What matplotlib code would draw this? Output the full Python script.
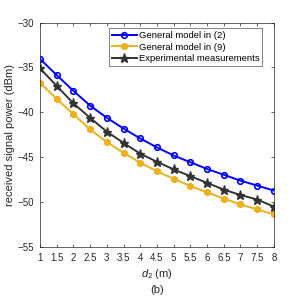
import matplotlib
matplotlib.use('Agg')
import matplotlib.pyplot as plt
import numpy as np

plt.rcParams['font.family'] = ['Liberation Sans', 'DejaVu Sans']
plt.rcParams['mathtext.fontset'] = 'custom'
plt.rcParams['mathtext.it'] = 'Liberation Sans:italic'
plt.rcParams['mathtext.rm'] = 'Liberation Sans'

d2 = np.arange(1, 8.01, 0.5)
model2 = [-34.05, -35.85, -37.6, -39.25, -40.6, -41.8, -42.9, -43.9,
          -44.8, -45.55, -46.3, -46.95, -47.6, -48.15, -48.7]
model9 = [-36.7, -38.5, -40.2, -41.9, -43.3, -44.5, -45.6, -46.55,
          -47.4, -48.2, -48.9, -49.6, -50.25, -50.8, -51.35]
measured = [-35.1, -37.05, -39.0, -40.6, -42.15, -43.4, -44.6, -45.5,
            -46.35, -47.1, -47.85, -48.6, -49.2, -49.7, -50.5]

xticks = np.arange(1, 8.01, 0.5)
xticklabels = ['1', '1.5', '2', '2.5', '3', '3.5', '4', '4.5', '5', '5.5',
               '6', '6.5', '7', '7.5', '8']
yticks = [-55, -50, -45, -40, -35, -30]

fig = plt.figure(figsize=(3.03, 2.97), dpi=100)
ax = fig.add_axes([0.132, 0.168, 0.772, 0.756])

ax.plot(d2, model2, '-', color='#0000ff', lw=1.4, marker='o', ms=4,
        mfc='none', mew=1.2, label='General model in (2)')
ax.plot(d2, model9, '-', color='#EDB120', lw=1.4, marker=(6, 2, 0), ms=5,
        mew=1.8, label='General model in (9)')
ax.plot(d2, measured, '-', color='#333333', lw=1.4, marker='*', ms=6.5,
        label='Experimental measurements')

ax.set_xlim(1, 8)
ax.set_ylim(-55, -30)
ax.set_xticks(xticks)
ax.set_xticklabels(xticklabels)
ax.set_yticks(yticks)
ax.tick_params(direction='in', length=2.5, width=0.5, labelsize=7,
               colors='#262626', top=True, right=True, pad=4)
for s in ax.spines.values():
    s.set_color('#262626')
    s.set_linewidth(0.5)

ax.set_xlabel('$d_2$ (m)', fontsize=8, color='#262626', labelpad=3)
ax.set_ylabel('received signal power (dBm)', fontsize=8, color='#262626',
              labelpad=2)
fig.text(0.5 * (0.132 + 0.904), 0.015, '(b)', ha='center', fontsize=8,
         color='#262626')

leg = ax.legend(loc='upper right', fontsize=6.8, frameon=True, fancybox=False,
                edgecolor='#262626', handlelength=2.6, handletextpad=0.2,
                borderpad=0.3, labelspacing=0.25,
                bbox_to_anchor=(0.97, 0.995))
leg.get_frame().set_linewidth(0.5)

fig.savefig('out.png', dpi=100)
